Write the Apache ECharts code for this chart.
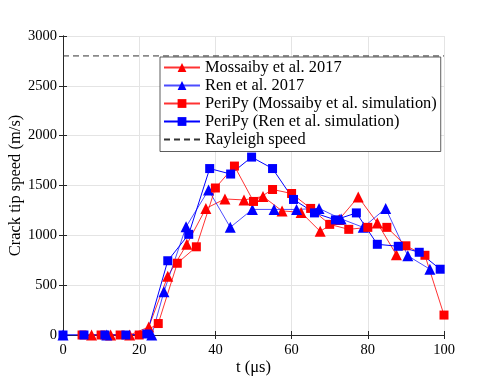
<!DOCTYPE html>
<html>
<head>
<meta charset="utf-8">
<script src="https://cdn.jsdelivr.net/npm/echarts@6/dist/echarts.min.js"></script>
<style>
  body { margin: 0; background: #fff; }
  #main { width: 491px; height: 386px; }
</style>
</head>
<body>
<div id="main"></div>
<script>
// Mossaiby et al. 2017 (experiment, red triangles)
var mossT = [7.5, 12.5, 17.5, 22.5, 27.5, 32.5, 37.5, 42.5, 47.5, 52.5, 57.5, 62.5, 67.5, 72.5, 77.5, 82.5, 87.5];
var mossV = [0, 0, 0, 80, 590, 910, 1270, 1365, 1355, 1390, 1245, 1230, 1040, 1160, 1385, 1125, 805];
// Ren et al. 2017 (blue triangles)
var renT = [0, 11.5, 23.3, 26.5, 32.3, 38.2, 43.9, 49.7, 55.4, 61.3, 67.2, 73, 78.8, 84.7, 90.5, 96.3];
var renV = [0, 0, 0, 435, 1085, 1455, 1080, 1260, 1260, 1260, 1270, 1165, 1080, 1270, 795, 660];
// PeriPy, Mossaiby simulation (red squares)
var periMossT = [5, 10, 15, 20, 25, 30, 35, 40, 45, 50, 55, 60, 65, 70, 75, 80, 85, 90, 95, 100];
var periMossV = [0, 0, 0, 0, 115, 720, 885, 1475, 1695, 1340, 1460, 1420, 1270, 1110, 1060, 1080, 1080, 895, 800, 200];
// PeriPy, Ren simulation (blue squares)
var periRenT = [0, 5.5, 11, 16.5, 22, 27.5, 33, 38.5, 44, 49.5, 55, 60.5, 66, 71.5, 77, 82.5, 88, 93.5, 99];
var periRenV = [0, 0, 0, 0, 10, 745, 1010, 1670, 1615, 1785, 1670, 1360, 1225, 1155, 1225, 910, 890, 830, 660];
// Rayleigh speed
var rayleighT = [0, 100];
var rayleighV = [2800, 2800];

var xTicks = [0, 20, 40, 60, 80, 100];
var yTicks = [0, 500, 1000, 1500, 2000, 2500, 3000];

var names = ['Mossaiby et al. 2017', 'Ren et al. 2017', 'PeriPy (Mossaiby et al. simulation)',
  'PeriPy (Ren et al. simulation)', 'Rayleigh speed'];

function pairs(t, v) {
  return t.map(function (x, i) { return [x, v[i]]; });
}

var font = 'Liberation Serif';
var axisColor = '#262626';

var myChart = echarts.init(document.getElementById('main'));

function baseAxis(pos, min, max, interval, showLabel) {
  return {
    type: 'value',
    position: pos,
    min: min,
    max: max,
    interval: interval,
    axisLine: { show: true, lineStyle: { color: axisColor, width: 1 } },
    axisTick: { show: true, inside: true, length: 4, lineStyle: { color: axisColor } },
    axisLabel: {
      show: showLabel, color: '#000', fontFamily: font, fontSize: 14.5, margin: 8,
      formatter: function (v) { return String(v); }
    },
    splitLine: { show: showLabel, lineStyle: { color: '#e4e4e4', width: 1 } }
  };
}

var xMain = baseAxis('bottom', xTicks[0], xTicks[xTicks.length - 1], 20, true);
xMain.name = 't (μs)';
xMain.nameLocation = 'middle';
xMain.nameGap = 24;
xMain.nameMoveOverlap = false;
xMain.nameTextStyle = { fontFamily: font, fontSize: 16.5, color: '#000' };

var yMain = baseAxis('left', yTicks[0], yTicks[yTicks.length - 1], 500, true);
yMain.axisLabel.margin = 6;
yMain.name = 'Crack tip speed (m/s)';
yMain.nameLocation = 'middle';
yMain.nameGap = 39;
yMain.nameMoveOverlap = false;
yMain.nameTextStyle = { fontFamily: font, fontSize: 16.5, color: '#000' };

var xTop = baseAxis('top', 0, 100, 20, false);
var yRight = baseAxis('right', 0, 3000, 500, false);

var option = {
  animation: false,
  backgroundColor: '#fff',
  grid: { left: 63, right: 47, top: 36, bottom: 51, outerBoundsMode: 'none' },
  legend: {
    orient: 'vertical',
    left: 160,
    top: 57,
    width: 281,
    data: [names[0], names[1], names[2], names[3], { name: names[4], itemStyle: { opacity: 0 } }],
    itemWidth: 36,
    itemHeight: 11,
    itemGap: 2,
    padding: [2.5, 4, 4, 3],
    backgroundColor: '#fff',
    borderColor: '#333',
    borderWidth: 0.8,
    textStyle: { fontFamily: font, fontSize: 16.4, color: '#000', lineHeight: 15 }
  },
  xAxis: [xMain, xTop],
  yAxis: [yMain, yRight],
  series: [
    {
      name: names[0], type: 'line', data: pairs(mossT, mossV),
      symbol: 'triangle', symbolSize: 11,
      lineStyle: { color: '#ff0000', width: 1, opacity: 0.8 },
      itemStyle: { color: '#ff0000' }
    },
    {
      name: names[1], type: 'line', data: pairs(renT, renV),
      symbol: 'triangle', symbolSize: 11,
      lineStyle: { color: '#0000ff', width: 1, opacity: 0.7 },
      itemStyle: { color: '#0000ff' }
    },
    {
      name: names[2], type: 'line', data: pairs(periMossT, periMossV),
      symbol: 'rect', symbolSize: 9,
      lineStyle: { color: '#ff0000', width: 1, opacity: 0.8 },
      itemStyle: { color: '#ff0000' }
    },
    {
      name: names[3], type: 'line', data: pairs(periRenT, periRenV),
      symbol: 'rect', symbolSize: 9,
      lineStyle: { color: '#0000ff', width: 1 },
      itemStyle: { color: '#0000ff' }
    },
    {
      name: names[4], type: 'line', data: pairs(rayleighT, rayleighV),
      symbol: 'none',
      lineStyle: { color: '#333', width: 1, type: [6, 4] },
      itemStyle: { color: '#333' }
    }
  ]
};

myChart.setOption(option);
</script>
</body>
</html>
